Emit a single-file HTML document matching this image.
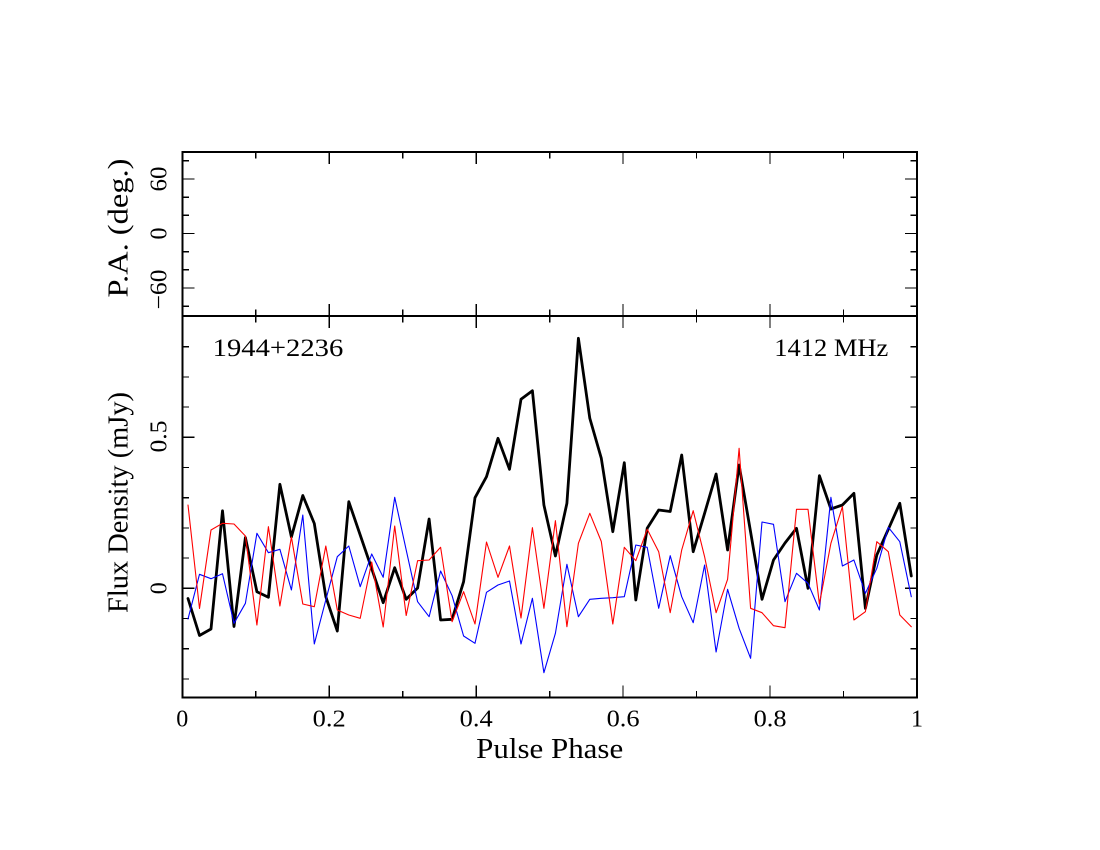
<!DOCTYPE html>
<html>
<head>
<meta charset="utf-8">
<style>
html,body{margin:0;padding:0;background:#fff;}
svg{display:block;}
text{font-family:"Liberation Serif",serif;fill:#000;}
</style>
</head>
<body>
<svg width="1100" height="850" viewBox="0 0 1100 850" xmlns="http://www.w3.org/2000/svg">
<rect x="0" y="0" width="1100" height="850" fill="#fff"/>

<!-- frames -->
<g fill="none" stroke="#000" stroke-width="2" shape-rendering="crispEdges">
  <rect x="182.3" y="152" width="734.7" height="164"/>
  <rect x="182.3" y="316" width="734.7" height="381.5"/>
</g>

<!-- ticks -->
<g fill="none" stroke="#000" stroke-width="1.2" shape-rendering="crispEdges">
  <!-- bottom panel, bottom edge -->
  <path d="M255.8 697.5v-6.5M329.2 697.5v-12M402.7 697.5v-6.5M476.2 697.5v-12M549.7 697.5v-6.5M623.1 697.5v-12M696.6 697.5v-6.5M770.1 697.5v-12M843.5 697.5v-6.5"/>
  <!-- bottom panel, top edge -->
  <path d="M255.8 316v6.5M329.2 316v12M402.7 316v6.5M476.2 316v12M549.7 316v6.5M623.1 316v12M696.6 316v6.5M770.1 316v12M843.5 316v6.5"/>
  <!-- top panel, bottom edge -->
  <path d="M255.8 316v-6.5M329.2 316v-12M402.7 316v-6.5M476.2 316v-12M549.7 316v-6.5M623.1 316v-12M696.6 316v-6.5M770.1 316v-12M843.5 316v-6.5"/>
  <!-- top panel, top edge -->
  <path d="M255.8 152v6.5M329.2 152v12M402.7 152v6.5M476.2 152v12M549.7 152v6.5M623.1 152v12M696.6 152v6.5M770.1 152v12M843.5 152v6.5"/>
  <!-- bottom panel, left -->
  <path d="M182.3 678.9h6.5M182.3 648.7h6.5M182.3 618.5h6.5M182.3 588.3h12M182.3 558.1h6.5M182.3 527.9h6.5M182.3 497.7h6.5M182.3 467.5h6.5M182.3 437.3h12M182.3 407.1h6.5M182.3 376.9h6.5M182.3 346.7h6.5"/>
  <!-- bottom panel, right -->
  <path d="M917 678.9h-6.5M917 648.7h-6.5M917 618.5h-6.5M917 588.3h-12M917 558.1h-6.5M917 527.9h-6.5M917 497.7h-6.5M917 467.5h-6.5M917 437.3h-12M917 407.1h-6.5M917 376.9h-6.5M917 346.7h-6.5"/>
  <!-- top panel, left -->
  <path d="M182.3 306.2h6.5M182.3 288h12M182.3 269.8h6.5M182.3 251.7h6.5M182.3 233.5h12M182.3 215.3h6.5M182.3 197.2h6.5M182.3 179h12M182.3 160.8h6.5"/>
  <!-- top panel, right -->
  <path d="M917 306.2h-6.5M917 288h-12M917 269.8h-6.5M917 251.7h-6.5M917 233.5h-12M917 215.3h-6.5M917 197.2h-6.5M917 179h-12M917 160.8h-6.5"/>
</g>

<!-- data series -->
<g fill="none" stroke-linejoin="round" stroke-linecap="round">
<polyline stroke="#000" stroke-width="2.8" points="188.0,598.5 199.5,635.5 211.0,629 222.5,510.8 234.0,626.5 245.4,537.5 256.9,591.7 268.4,597.3 279.9,484.3 291.4,537 302.8,495.5 314.3,523.5 325.8,596.7 337.3,631 348.8,501.7 360.2,535 371.7,568.7 383.2,602.7 394.7,567.7 406.2,599.3 417.6,588 429.1,519 440.6,620 452.1,619.3 463.6,581.7 475.0,497.7 486.5,476.7 498.0,438.3 509.5,469.3 521.0,399.3 532.4,390.7 543.9,505 555.4,556 566.9,503.3 578.4,338.3 589.8,418.3 601.3,458.3 612.8,531.7 624.3,462.7 635.8,600 647.2,528.3 658.7,510 670.2,511.5 681.7,455 693.2,551.7 704.6,513.3 716.1,474 727.6,550 739.1,465 750.6,532 762.0,599.3 773.5,560 785.0,543 796.5,528.3 808.0,588.3 819.4,475.7 830.9,509 842.4,505 853.9,493.3 865.4,608.3 876.8,555 888.3,529.3 899.8,503.3 911.3,576"/>
<polyline stroke="#0000ff" stroke-width="1.1" points="188.0,619 199.5,574.3 211.0,578.7 222.5,573.7 234.0,623.3 245.4,603.3 256.9,533.3 268.4,552.7 279.9,549.3 291.4,590 302.8,515 314.3,644 325.8,600 337.3,556.7 348.8,546 360.2,586.7 371.7,554 383.2,577.3 394.7,497.3 406.2,550 417.6,601.7 429.1,616.7 440.6,571 452.1,595.7 463.6,636 475.0,643.3 486.5,592.3 498.0,585 509.5,581 521.0,644 532.4,598.3 543.9,672.7 555.4,633.3 566.9,564.3 578.4,616.7 589.8,599.3 601.3,598.3 612.8,597.7 624.3,596.7 635.8,545 647.2,547.3 658.7,608.3 670.2,555.7 681.7,596.7 693.2,622.7 704.6,565 716.1,652 727.6,589.3 739.1,628.3 750.6,658.3 762.0,522 773.5,524.3 785.0,601.7 796.5,573.3 808.0,583.3 819.4,610 830.9,497.3 842.4,566 853.9,560 865.4,593.3 876.8,568.3 888.3,527.3 899.8,541.7 911.3,596.7"/>
<polyline stroke="#ff0000" stroke-width="1.1" points="188.0,505 199.5,608.5 211.0,530 222.5,523.3 234.0,524 245.4,536 256.9,625 268.4,526.7 279.9,606 291.4,537 302.8,604 314.3,606.7 325.8,546 337.3,610 348.8,615 360.2,618.3 371.7,562 383.2,627 394.7,526 406.2,615.5 417.6,560.7 429.1,560 440.6,547.3 452.1,621.7 463.6,591.7 475.0,624 486.5,542 498.0,577.3 509.5,546 521.0,618 532.4,527.7 543.9,608.3 555.4,520.7 566.9,626.7 578.4,543.3 589.8,513.3 601.3,541.5 612.8,624 624.3,547.3 635.8,560.7 647.2,529.3 658.7,551.7 670.2,612.7 681.7,550 693.2,510.7 704.6,556.7 716.1,612.7 727.6,579.3 739.1,448.3 750.6,608.3 762.0,612.7 773.5,625.7 785.0,627.7 796.5,509.3 808.0,509.3 819.4,604 830.9,543.3 842.4,506.7 853.9,620 865.4,611.7 876.8,541.7 888.3,551.7 899.8,615 911.3,626.7"/>
</g>

<!-- x tick labels -->
<g font-size="24" text-anchor="middle">
  <text x="182.3" y="726.5">0</text>
  <text x="329.2" y="726.5" textLength="33" lengthAdjust="spacingAndGlyphs">0.2</text>
  <text x="476.2" y="726.5" textLength="33" lengthAdjust="spacingAndGlyphs">0.4</text>
  <text x="623.1" y="726.5" textLength="33" lengthAdjust="spacingAndGlyphs">0.6</text>
  <text x="770.1" y="726.5" textLength="33" lengthAdjust="spacingAndGlyphs">0.8</text>
  <text x="917" y="726.5">1</text>
</g>
<text x="549.7" y="758" font-size="28" text-anchor="middle" textLength="147" lengthAdjust="spacingAndGlyphs">Pulse Phase</text>

<!-- y tick labels (rotated) -->
<g font-size="24" text-anchor="middle">
  <text transform="translate(166.5,436.5) rotate(-90)" textLength="32" lengthAdjust="spacingAndGlyphs">0.5</text>
  <text transform="translate(166.5,588.3) rotate(-90)">0</text>
  <text transform="translate(166.5,179) rotate(-90)" textLength="25" lengthAdjust="spacingAndGlyphs">60</text>
  <text transform="translate(166.5,233.5) rotate(-90)">0</text>
  <text transform="translate(166.5,289.5) rotate(-90)" textLength="40" lengthAdjust="spacingAndGlyphs">−60</text>
</g>

<!-- axis labels (rotated) -->
<text transform="translate(127.5,502.5) rotate(-90)" font-size="28" text-anchor="middle" textLength="221" lengthAdjust="spacingAndGlyphs">Flux Density (mJy)</text>
<text transform="translate(127.5,228) rotate(-90)" font-size="28" text-anchor="middle" textLength="139" lengthAdjust="spacingAndGlyphs">P.A. (deg.)</text>

<!-- annotations -->
<text x="212.7" y="356" font-size="25" textLength="130.6" lengthAdjust="spacingAndGlyphs">1944+2236</text>
<text x="774.3" y="356" font-size="25" textLength="114" lengthAdjust="spacingAndGlyphs">1412 MHz</text>
</svg>
</body>
</html>
